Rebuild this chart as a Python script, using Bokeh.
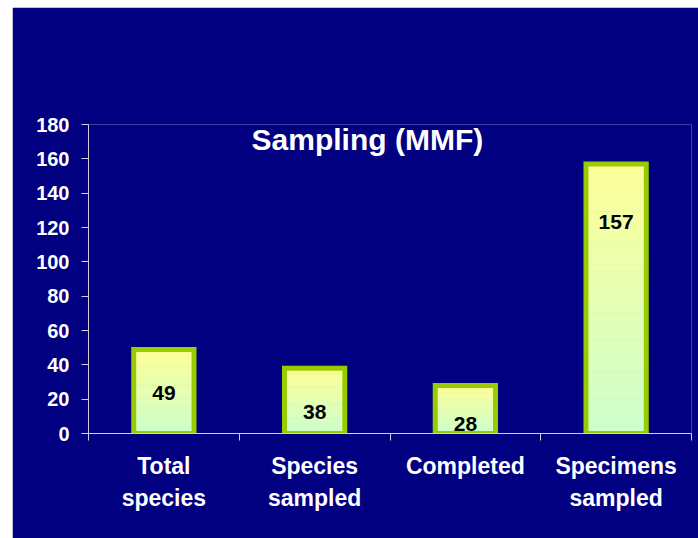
import numpy as np
from bokeh.plotting import figure
from bokeh.models import Range1d, FixedTicker, Label, ColumnDataSource
from bokeh.core.properties import value
from bokeh.embed import file_html
from bokeh.resources import INLINE

# ---- data ----
categories = ["Total\nspecies", "Species\nsampled", "Completed", "Specimens\nsampled"]
values = [49, 38, 28, 157]
y_ticks = list(range(0, 181, 20))
title_text = "Sampling (MMF)"

# ---- style ----
label_offsets_px = [44, 44, 39, 58]   # label drop below bar top (screen px)
NAVY = "#000080"
FONT = "Liberation Sans"
BAR_W = 0.4
N_SLICES = 40
TOP_RGB = np.array([255, 255, 153])
BOT_RGB = np.array([204, 255, 204])

xs = [i + 0.5 for i in range(len(categories))]

p = figure(width=686, height=531, output_backend="svg", toolbar_location=None,
           x_range=Range1d(0, len(categories)), y_range=Range1d(0, 180),
           min_border_left=76, min_border_right=7, min_border_top=117,
           min_border_bottom=105)
p.margin = (7, 0, 0, 12)
p.background_fill_color = NAVY
p.border_fill_color = NAVY
p.outline_line_color = None
p.grid.visible = False

# gradient fill (per bar, yellow top -> green bottom)
sx, sb, st, sc = [], [], [], []
for x, v in zip(xs, values):
    for k in range(N_SLICES):
        f0, f1 = k / N_SLICES, (k + 1) / N_SLICES
        t = (f0 + f1) / 2
        rgb = (BOT_RGB * (1 - t) + TOP_RGB * t).astype(int)
        sx.append(x); sb.append(v * f0); st.append(v * f1)
        sc.append("#%02x%02x%02x" % tuple(rgb))
p.vbar(x=sx, bottom=sb, top=st, width=BAR_W, fill_color=sc, line_color=sc,
       line_width=1)

# bar outlines
src = ColumnDataSource(dict(x=xs, top=values, lab=[str(v) for v in values],
                            off=label_offsets_px))
p.vbar(x="x", top="top", bottom=0, width=BAR_W, source=src, fill_alpha=0,
       line_color="#99CC00", line_width=5, line_join="miter")

# value labels
p.text(x="x", y="top", text="lab", source=src, y_offset="off",
       text_align="center", text_baseline="middle", text_color="black",
       text_font_size="21px", text_font_style="bold", text_font=value(FONT))

# title inside plot
p.add_layout(Label(x=1.85, y=171, text=title_text, text_align="center",
                   text_baseline="alphabetic", text_color="white",
                   text_font_size="30px", text_font_style="bold",
                   text_font=FONT))

AX = "#D0D0E0"
# y axis
ya = p.yaxis[0]
ya.ticker = FixedTicker(ticks=y_ticks)
ya.axis_line_color = AX
ya.major_tick_line_color = AX
ya.major_tick_in = 0
ya.major_tick_out = 7
ya.minor_tick_line_color = None
ya.major_label_text_color = "white"
ya.major_label_text_font = FONT
ya.major_label_text_font_style = "bold"
ya.major_label_text_font_size = "20px"
ya.major_label_standoff = 12

# x axis
xa = p.xaxis[0]
xa.ticker = FixedTicker(ticks=xs, minor_ticks=list(range(len(categories) + 1)))
xa.major_label_overrides = {x: c for x, c in zip(xs, categories)}
xa.axis_line_color = AX
xa.major_tick_line_color = None
xa.major_tick_in = 0
xa.major_tick_out = 0
xa.minor_tick_line_color = AX
xa.minor_tick_in = 0
xa.minor_tick_out = 7
xa.major_label_text_color = "white"
xa.major_label_text_font = FONT
xa.major_label_text_font_style = "bold"
xa.major_label_text_font_size = "23px"
xa.major_label_text_line_height = 1.25
xa.major_label_standoff = 12

open("out.html", "w").write(file_html(p, INLINE))
